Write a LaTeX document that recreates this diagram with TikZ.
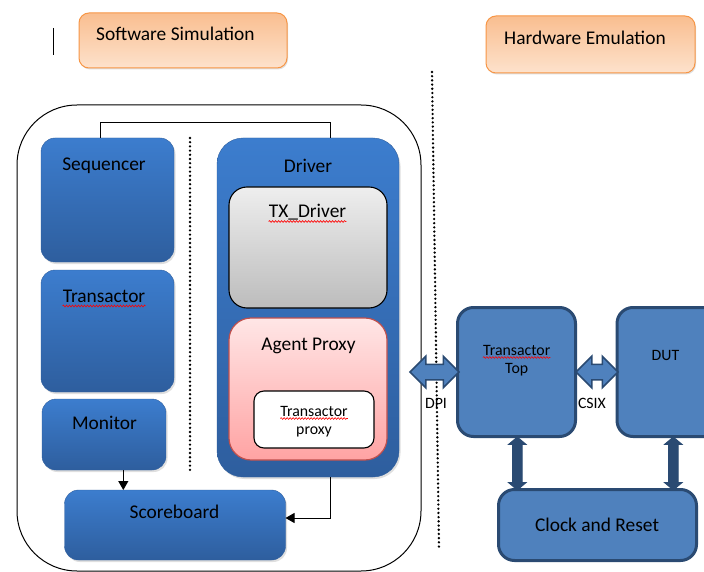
\documentclass[tikz,border=0pt]{standalone}
\usepackage{fontspec}
\setmainfont{Carlito}
\usetikzlibrary{arrows.meta,shapes.arrows,shadows,decorations.pathmorphing}
\definecolor{orline}{HTML}{F79646}
\definecolor{ortop}{HTML}{F9BE90}
\definecolor{orbot}{HTML}{FDE2CC}
\definecolor{swtop}{HTML}{3C7DCE}
\definecolor{swbot}{HTML}{2E5E9E}
\definecolor{hwfill}{HTML}{4F81BD}
\definecolor{hwline}{HTML}{2A4A72}
\definecolor{grtop}{HTML}{EEEEEE}
\definecolor{grbot}{HTML}{BCBCBC}
\definecolor{pktop}{HTML}{FFE6E6}
\definecolor{pkbot}{HTML}{FFA3A3}
\definecolor{pkline}{HTML}{C0504D}
\begin{document}
\begin{tikzpicture}[x=1pt,y=-1pt,
  big/.style={font=\fontsize{19.4}{22}\selectfont, inner sep=0pt, anchor=base, text=black},
  small/.style={font=\fontsize{15.8}{18}\selectfont, inner sep=0pt, anchor=base, text=black},
  boxbase/.style={inner sep=0pt, outer sep=0pt},
  titlebox/.style={boxbase, rounded corners=10pt, draw=orline, line width=1pt, top color=ortop, bottom color=orbot,
    drop shadow={shadow xshift=1pt, shadow yshift=-1.5pt, opacity=0.25}},
  swbox/.style={boxbase, rounded corners=14pt, top color=swtop, bottom color=swbot, draw=swbot, line width=0.4pt,
    drop shadow={shadow xshift=1.5pt, shadow yshift=-2pt, opacity=0.25}},
  drvbox/.style={boxbase, rounded corners=26pt, top color=swtop, bottom color=swbot, draw=swbot, line width=0.4pt,
    drop shadow={shadow xshift=1.5pt, shadow yshift=-2pt, opacity=0.25}},
  txbox/.style={boxbase, rounded corners=18pt, top color=grtop, bottom color=grbot, draw=black, line width=1.1pt},
  apbox/.style={boxbase, rounded corners=22pt, top color=pktop, bottom color=pkbot, draw=pkline, line width=1.2pt},
  tpbox/.style={boxbase, rounded corners=10pt, fill=white, draw=black, line width=1.1pt},
  hwbox/.style={boxbase, rounded corners=16pt, fill=hwfill, draw=hwline, line width=3pt},
  dblarrow/.style={double arrow, draw=hwline, fill=hwfill, line width=1.5pt, inner sep=0pt, inner ysep=7pt,
    double arrow head extend=8pt},
  vdblarrow/.style={double arrow, rotate=90, draw=hwline, fill=hwline, line width=0.8pt, inner sep=0pt, inner ysep=4.5pt,
    double arrow head extend=4pt, double arrow tip angle=100},
  conn/.style={draw=black, line width=1pt},
  arr/.style={conn, -{Triangle[length=9pt,width=10pt]}},
  squig/.style={draw=red, line width=0.6pt, decorate, decoration={snake, amplitude=0.9pt, segment length=3pt}},
  dotline/.style={draw=black, line width=2.6pt, dash pattern=on 0pt off 4.2pt, line cap=round}
]
\useasboundingbox[fill=white] (0,0) rectangle (704,572);

% titles
\draw[black, line width=1pt] (53,28) -- (53,55);
\node[titlebox, minimum width=208pt, minimum height=55pt] (swt) at (183,40.5) {};
\node[big, anchor=base west] (swtt) at (96,40.5) {Software Simulation};
\node[titlebox, minimum width=209pt, minimum height=57pt] (hwt) at (590.5,44.5) {};
\node[big, anchor=base west] (hwtt) at (504,45) {Hardware Emulation};

% dotted separators
\draw[dotline] (432,72) -- (439,548);

% software frame
\node[boxbase, draw=black, line width=1pt, rounded corners=60pt, minimum width=404pt, minimum height=466pt] (frame) at (219,338) {};
\draw[dotline] (190,138) -- (190,473);

% software boxes
\node[swbox, minimum width=133pt, minimum height=124pt] (seq) at (107.5,200) {};
\node[big] (seqt) at (104,171) {Sequencer};
\node[swbox, minimum width=133pt, minimum height=122pt] (trn) at (107.5,331) {};
\node[big] (trnt) at (104,302) {Transactor};
\node[swbox, minimum width=124pt, minimum height=71pt] (mon) at (104,434.5) {};
\node[big] (mont) at (104.5,429) {Monitor};
\node[swbox, minimum width=221pt, minimum height=70pt] (sb) at (175,525) {};
\node[big] (sbt) at (174.5,518) {Scoreboard};

\node[drvbox, minimum width=182pt, minimum height=339pt] (drv) at (308,307.5) {};
\node[big] (drvt) at (308,173) {Driver};
\node[txbox, minimum width=158pt, minimum height=121pt] (txd) at (308,247.5) {};
\node[big] (txdt) at (307.5,218) {TX\_Driver};
\node[apbox, minimum width=158pt, minimum height=142pt] (ap) at (308,389) {};
\node[big] (apt) at (308.5,350.5) {Agent Proxy};
\node[tpbox, minimum width=120pt, minimum height=57pt] (tp) at (314,419.5) {};
\node[small] (tpt1) at (314,416) {Transactor};
\node[small] (tpt2) at (314,434) {proxy};

% software connectors
\draw[conn] ([xshift=-7pt]seq.north) -- ++(0,-15.5) -| ([xshift=22pt]drv.north);
\draw[arr] (mon.south -| 123.3,0) -- (sb.north -| 123.3,0);
\draw[arr] (drv.south -| 330,0) |- ([yshift=7pt]sb.east);

% hardware
\node[hwbox, minimum width=118pt, minimum height=129pt] (tt) at (516.5,372) {};
\node[small] (ttt1) at (516.7,355) {Transactor};
\node[small] (ttt2) at (516.7,373) {Top};
\node[hwbox, minimum width=110pt, minimum height=129pt] (dut) at (672,372) {};
\node[small] (dutt) at (665.5,360) {DUT};
\node[hwbox, minimum width=198pt, minimum height=71pt] (clk) at (597.5,525) {};
\node[big] (clkt) at (597,531.5) {Clock and Reset};

\node[dblarrow, minimum height=49pt] (dpi) at (434.5,372) {};
\node[small] (dpit) at (436,408) {DPI};
\node[dblarrow, minimum height=42pt] (csix) at (597,372) {};
\node[small] (csixt) at (592,408) {CSIX};
\node[vdblarrow, minimum height=53pt] (v1) at (517.3,463.5) {};
\node[vdblarrow, minimum height=53pt] (v2) at (673.3,463.5) {};

% spell-check squiggles
\draw[squig] ([yshift=-3.5pt]txdt.base west) -- ([yshift=-3.5pt]txdt.base east);
\draw[squig] ([yshift=-4pt]trnt.base west) -- ([yshift=-4pt]trnt.base east);
\draw[squig] ([yshift=-2.5pt]tpt1.base west) -- ([yshift=-2.5pt]tpt1.base east);
\draw[squig] ([yshift=-2.5pt]ttt1.base west) -- ([yshift=-2.5pt]ttt1.base east);
\end{tikzpicture}
\end{document}
